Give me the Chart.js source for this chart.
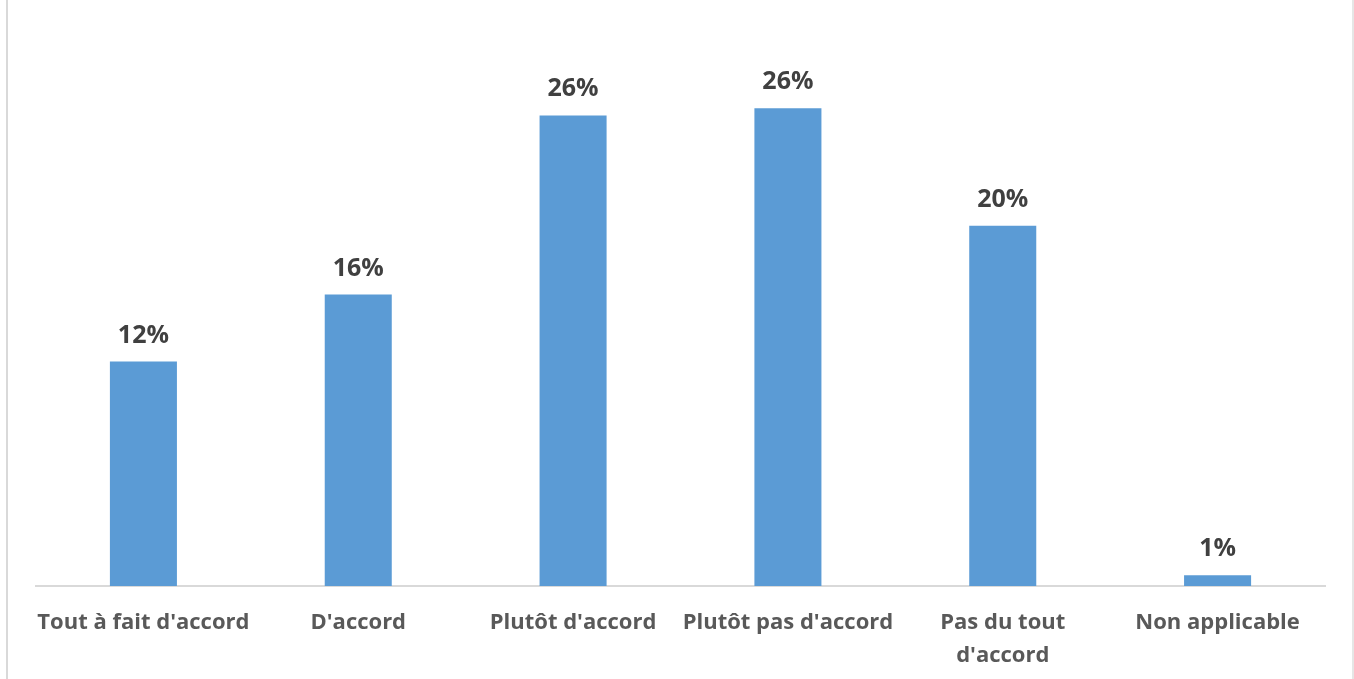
<!DOCTYPE html>
<html>
<head>
<meta charset="utf-8">
<script src="https://cdn.jsdelivr.net/npm/chart.js@4"></script>
<style>
html,body{margin:0;padding:0;background:#fff;}
#wrap{position:relative;width:1354px;height:679px;box-sizing:border-box;}
#wrap:before{content:"";position:absolute;left:6px;top:0;width:2px;height:679px;background:#d9d9d9;}
#wrap:after{content:"";position:absolute;left:1352px;top:0;width:2px;height:679px;background:#e6e6e6;}
canvas{display:block;}
</style>
</head>
<body>
<div id="wrap"><canvas id="c" width="1354" height="679"></canvas></div>
<script>
const categories = ["Tout à fait d'accord", "D'accord", "Plutôt d'accord", "Plutôt pas d'accord", ["Pas du tout", "d'accord"], "Non applicable"];
const values = [12.4, 16.1, 26.0, 26.4, 19.9, 0.6];

const FONT = "'Open Sans', sans-serif";

const valueLabels = {
  id: 'valueLabels',
  afterDatasetsDraw(chart) {
    const ctx = chart.ctx;
    const meta = chart.getDatasetMeta(0);
    ctx.save();
    ctx.font = "bold 25px " + FONT;
    ctx.fillStyle = '#404040';
    ctx.textAlign = 'center';
    ctx.textBaseline = 'alphabetic';
    meta.data.forEach((bar, i) => {
      ctx.fillText(Math.round(values[i]) + '%', bar.x, bar.y - 19);
    });
    ctx.restore();
  }
};

new Chart(document.getElementById('c'), {
  type: 'bar',
  data: {
    labels: categories,
    datasets: [{
      data: values,
      backgroundColor: '#5b9bd5',
      borderWidth: 0,
      barPercentage: 0.312,
      categoryPercentage: 1.0
    }]
  },
  options: {
    responsive: false,
    animation: false,
    layout: { padding: { left: 36, right: 29, top: 43, bottom: 0 } },
    plugins: { legend: { display: false }, tooltip: { enabled: false } },
    scales: {
      y: { display: false, min: 0, max: 30 },
      x: {
        afterFit(scale) { scale.height = 93; },
        grid: { display: false, drawTicks: false },
        border: { display: true, color: '#d9d9d9', width: 2 },
        ticks: {
          color: '#595959',
          font: { family: FONT, size: 22, weight: 'bold', lineHeight: 1.5 },
          padding: 20,
          maxRotation: 0,
          autoSkip: false
        }
      }
    }
  },
  plugins: [valueLabels]
});
</script>
</body>
</html>
